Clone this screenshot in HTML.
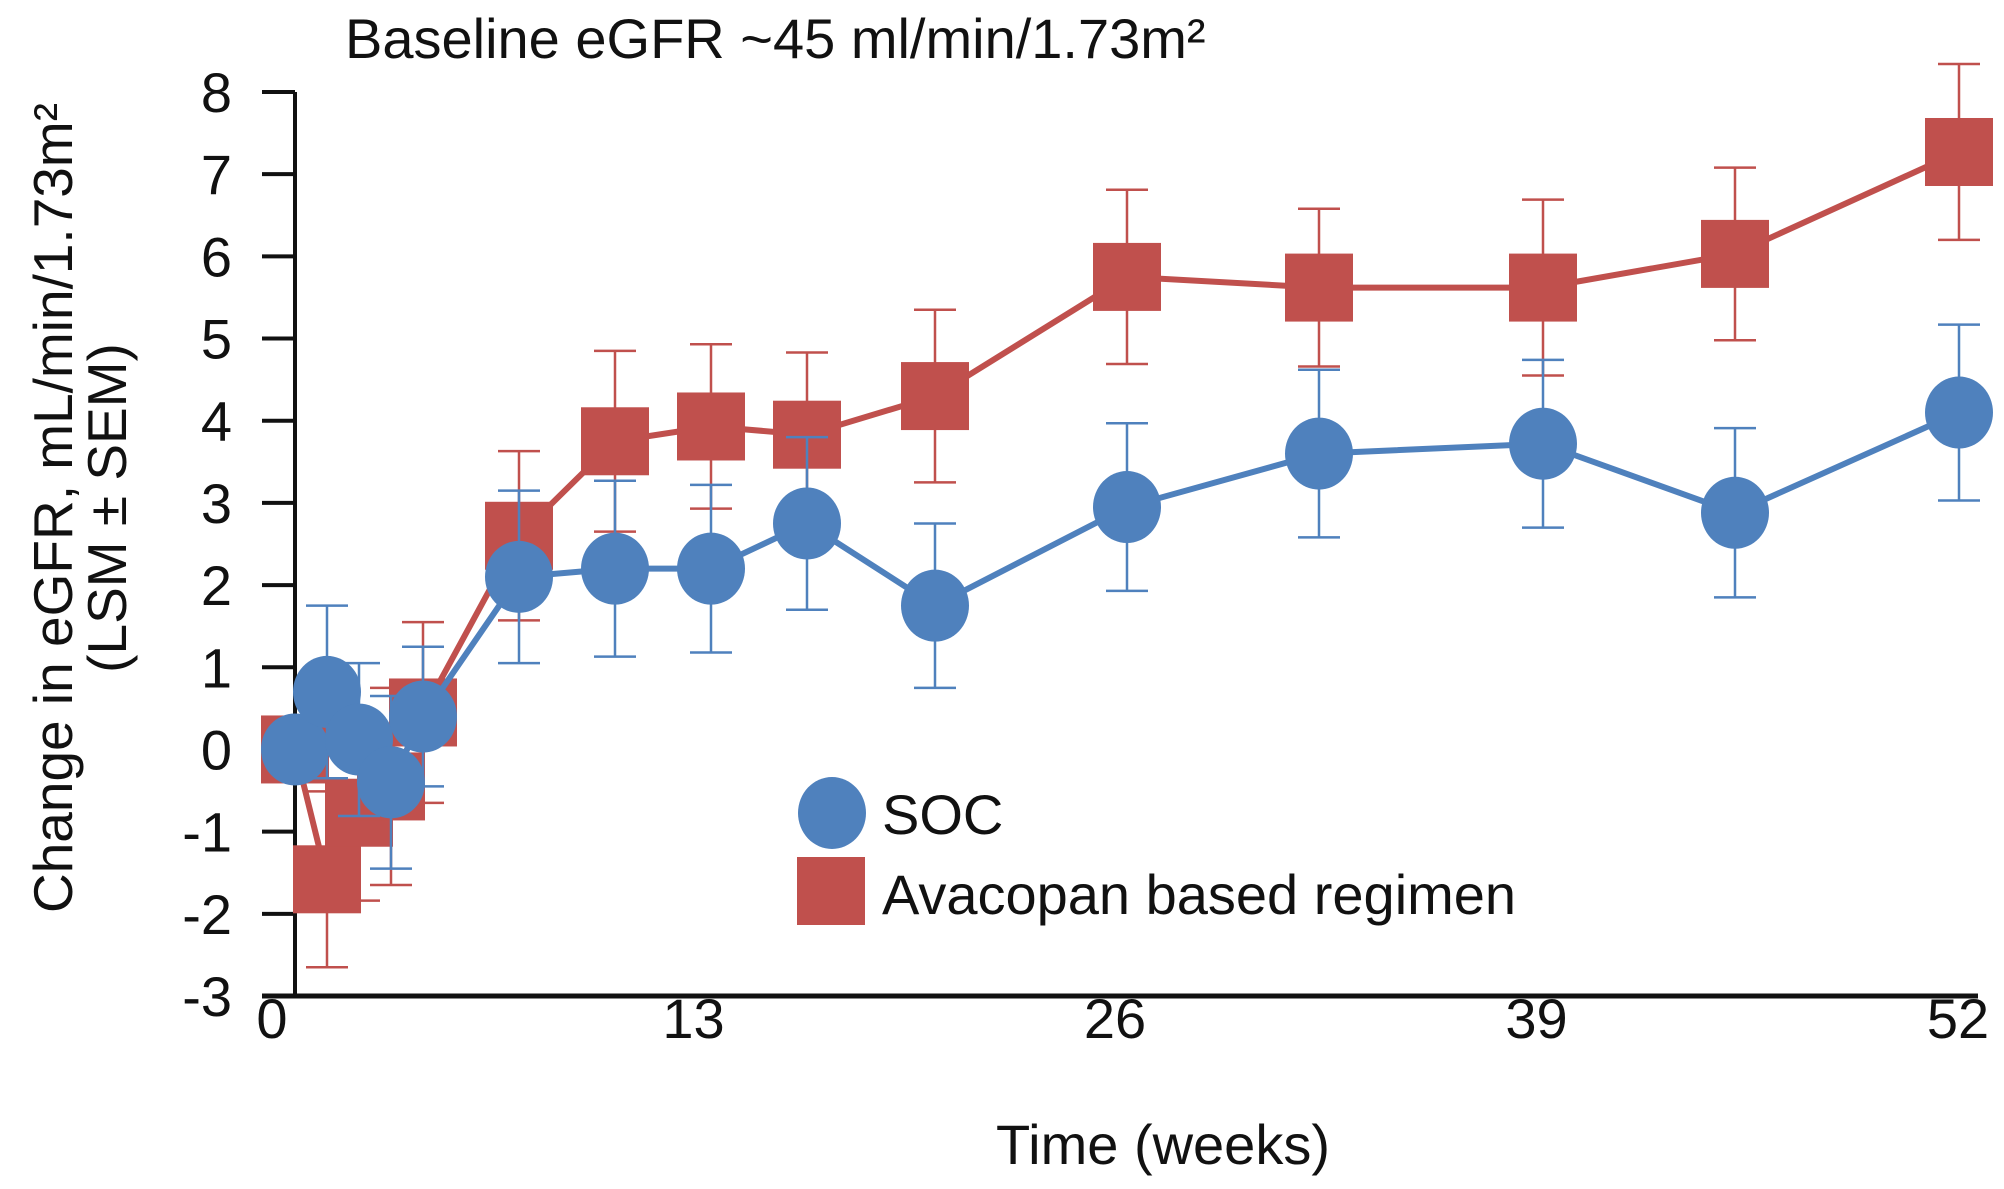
<!DOCTYPE html>
<html><head><meta charset="utf-8">
<style>
html,body{margin:0;padding:0;background:#fff;}
svg{display:block;font-family:"Liberation Sans",Arial,sans-serif;}
</style></head>
<body>
<svg id="chart" width="2004" height="1189" viewBox="0 0 2004 1189" xmlns="http://www.w3.org/2000/svg">
<text x="345" y="58" font-size="56" fill="#111">Baseline eGFR ~45 ml/min/1.73m²</text>
<g transform="translate(84,508) rotate(-90)" font-size="55" fill="#111" text-anchor="middle">
<text x="0" y="-12">Change in eGFR, mL/min/1.73m²</text>
<text x="0" y="42">(LSM ± SEM)</text>
</g>
<g id="axes"></g>
<g id="series"></g>
<g>
<ellipse cx="832" cy="813" rx="34" ry="36" fill="#4f81bd"/>
<text x="882" y="834" font-size="56" fill="#111">SOC</text>
<rect x="797" y="857" width="68" height="68" fill="#c0504d"/>
<text x="882" y="914" font-size="56" fill="#111">Avacopan based regimen</text>
</g>
<text x="1163" y="1164" font-size="56" fill="#111" text-anchor="middle">Time (weeks)</text>
</svg>
<script>
const weeks = [0,1,2,3,4,7,10,13,16,20,26,32,39,45,52];
const socValues = [0,0.7,0.12,-0.4,0.4,2.1,2.2,2.2,2.75,1.75,2.95,3.6,3.72,2.88,4.1];
const socErrors = [0,1.05,0.93,1.05,0.85,1.05,1.07,1.02,1.05,1.0,1.02,1.02,1.02,1.03,1.07];
const avaValues = [0,-1.58,-0.77,-0.45,0.45,2.6,3.75,3.93,3.83,4.3,5.75,5.62,5.62,6.03,7.27];
const avaErrors = [0,1.07,1.07,1.2,1.1,1.03,1.1,1.0,1.0,1.05,1.06,0.96,1.07,1.05,1.07];
const yTicks = [8,7,6,5,4,3,2,1,0,-1,-2,-3];
const xTickLabels = ["0","13","26","39","52"];

const NS = "http://www.w3.org/2000/svg";
const X0 = 295, X1 = 1959, Y_TOP = 92, Y_BOT = 996;
function xScale(w){ return X0 + (w/52)*(X1-X0); }
function yScale(v){ return Y_BOT - (v - (-3))/(11)*(Y_BOT-Y_TOP); }
function mk(tag, attrs, parent){
  const e = document.createElementNS(NS, tag);
  for (const k in attrs) e.setAttribute(k, attrs[k]);
  parent.appendChild(e);
  return e;
}
const axes = document.getElementById('axes');
let el = mk('line',{x1:X0,y1:Y_TOP,x2:X0,y2:Y_BOT,stroke:'#111','stroke-width':4},axes);


el = mk('line',{x1:262,y1:Y_BOT,x2:1978,y2:Y_BOT,stroke:'#111','stroke-width':5},axes);


yTicks.forEach(t=>{
  const y = yScale(t);
  const tk = mk('line',{x1:262,y1:y,x2:X0,y2:y,stroke:'#111','stroke-width':4},axes);
  
  
  const lb = mk('text',{x:232,y:y+20,'font-size':56,'text-anchor':'end',fill:'#111'},axes);
  lb.textContent = String(t);
  
  
});
xTickLabels.forEach((t,i)=>{
  const lb = mk('text',{x:272+i*421.5,y:1038,'font-size':56,'text-anchor':'middle',fill:'#111'},axes);
  lb.textContent = t;
  
  
});

const series = document.getElementById('series');
function drawSeries(name, vals, errs, color, shape){
  const g = mk('g',{},series);
  
  
  vals.forEach((v,i)=>{
    if (!errs[i]) return;
    const x = xScale(weeks[i]);
    const yt = yScale(v+errs[i]), yb = yScale(v-errs[i]);
    const eb = mk('path',{d:`M${x},${yt}V${yb}M${x-21},${yt}H${x+21}M${x-21},${yb}H${x+21}`,stroke:color,'stroke-width':2.5,fill:'none'},g);
    
    
  });
  const pts = vals.map((v,i)=>xScale(weeks[i])+','+yScale(v)).join(' ');
  const ln = mk('polyline',{points:pts,stroke:color,'stroke-width':6,fill:'none'},g);
  
  
  vals.forEach((v,i)=>{
    const x = xScale(weeks[i]), y = yScale(v);
    let m;
    if (shape==='circle') m = mk('ellipse',{cx:x,cy:y,rx:34,ry:36,fill:color},g);
    else m = mk('rect',{x:x-34,y:y-34,width:68,height:68,fill:color},g);
    
    
  });
}
drawSeries('avacopan', avaValues, avaErrors, '#c0504d', 'square');
drawSeries('soc', socValues, socErrors, '#4f81bd', 'circle');
</script>
</body></html>
